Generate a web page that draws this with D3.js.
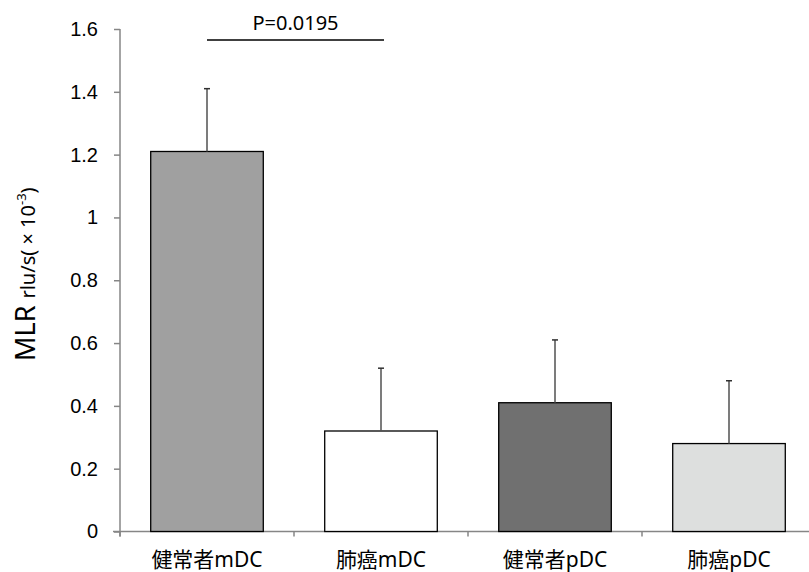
<!DOCTYPE html>
<html>
<head>
<meta charset="utf-8">
<script src="https://cdn.jsdelivr.net/npm/d3@7"></script>
<style>
  body { margin: 0; background: #fff; }
  svg { font-family: "Noto Sans", "Noto Sans CJK JP", sans-serif; }
</style>
</head>
<body>
<svg id="chart" width="809" height="572"></svg>
<script>
// data
const categories = ["健常者mDC", "肺癌mDC", "健常者pDC", "肺癌pDC"];
const means = [1.21, 0.32, 0.41, 0.28];
const errors = [0.20, 0.20, 0.20, 0.20];
const barColors = ["#a0a0a0", "#ffffff", "#707070", "#dddfde"];
const yTicks = [0, 0.2, 0.4, 0.6, 0.8, 1, 1.2, 1.4, 1.6];
const sigPair = [0, 1];
const sigLevel = 1.565;
const sigLabel = "P=0.0195";

const svg = d3.select("#chart");

const x = d3.scaleBand()
  .domain(categories)
  .range([120, 816])
  .paddingInner(0.353)
  .paddingOuter(0.1765);

const y = d3.scaleLinear()
  .domain([0, 1.6])
  .range([531.5, 29]);

const axisColor = "#868686";

// y axis
const yAxis = svg.append("g")
  .attr("transform", "translate(120,0)")
  .call(d3.axisLeft(y).tickValues(yTicks).tickSize(6).tickPadding(16)
    .tickFormat(d => d === 0 ? "0" : d3.format("~g")(d)));
yAxis.select(".domain").attr("stroke", axisColor).attr("stroke-width", 1.5)
  .attr("d", `M0,${y(1.6)}V${y(0) + 5}`);
yAxis.selectAll(".tick line").attr("stroke", axisColor).attr("stroke-width", 1.5);
yAxis.selectAll(".tick text").attr("font-size", 20).attr("fill", "#000");

// x axis: ticks sit between categories
const step = x.step();
const xAxisG = svg.append("g");
xAxisG.append("line")
  .attr("x1", 113).attr("x2", 809)
  .attr("y1", y(0)).attr("y2", y(0))
  .attr("stroke", axisColor).attr("stroke-width", 1.5);
xAxisG.selectAll("line.xt")
  .data(d3.range(categories.length + 1))
  .enter().append("line")
  .attr("class", "xt")
  .attr("x1", i => 120 + i * step).attr("x2", i => 120 + i * step)
  .attr("y1", y(0)).attr("y2", y(0) + 5)
  .attr("stroke", axisColor).attr("stroke-width", 1.5);
xAxisG.selectAll("text")
  .data(categories)
  .enter().append("text")
  .attr("x", d => x(d) + x.bandwidth() / 2)
  .attr("y", 567)
  .attr("text-anchor", "middle")
  .attr("font-size", 21)
  .text(d => d);

// bars
svg.selectAll("rect.bar")
  .data(categories)
  .enter().append("rect")
  .attr("class", "bar")
  .attr("x", d => x(d))
  .attr("y", (d, i) => y(means[i]))
  .attr("width", x.bandwidth())
  .attr("height", (d, i) => y(0) - y(means[i]))
  .attr("fill", (d, i) => barColors[i])
  .attr("stroke", "#000")
  .attr("stroke-width", 1.3);

// error bars (upper only)
const errG = svg.append("g");
categories.forEach((c, i) => {
  const cx = x(c) + x.bandwidth() / 2;
  const top = y(means[i] + errors[i]);
  errG.append("line")
    .attr("x1", cx).attr("x2", cx)
    .attr("y1", y(means[i])).attr("y2", top)
    .attr("stroke", "#505050").attr("stroke-width", 1.5);
  errG.append("line")
    .attr("x1", cx - 3).attr("x2", cx + 3)
    .attr("y1", top).attr("y2", top)
    .attr("stroke", "#303030").attr("stroke-width", 1.5);
});

// significance line
const sx1 = x(categories[sigPair[0]]) + x.bandwidth() / 2;
const sx2 = x(categories[sigPair[1]]) + x.bandwidth() / 2 + 3;
svg.append("line")
  .attr("x1", sx1).attr("x2", sx2)
  .attr("y1", y(sigLevel)).attr("y2", y(sigLevel))
  .attr("stroke", "#000").attr("stroke-width", 1.3);
svg.append("text")
  .attr("x", (sx1 + sx2) / 2)
  .attr("y", 30)
  .attr("text-anchor", "middle")
  .attr("font-size", 20)
  .text(sigLabel);

// y label
const yl = svg.append("text")
  .attr("transform", "translate(35,361) rotate(-90)")
  .attr("text-anchor", "start")
  .style("white-space", "pre");
yl.append("tspan").attr("font-size", 27).text("MLR ");
yl.append("tspan").attr("font-size", 20).text("rlu/s( \u00d7 10");
yl.append("tspan").attr("font-size", 13).attr("dy", -9).text("-3");
yl.append("tspan").attr("font-size", 20).attr("dy", 9).text(")");
</script>
</body>
</html>
